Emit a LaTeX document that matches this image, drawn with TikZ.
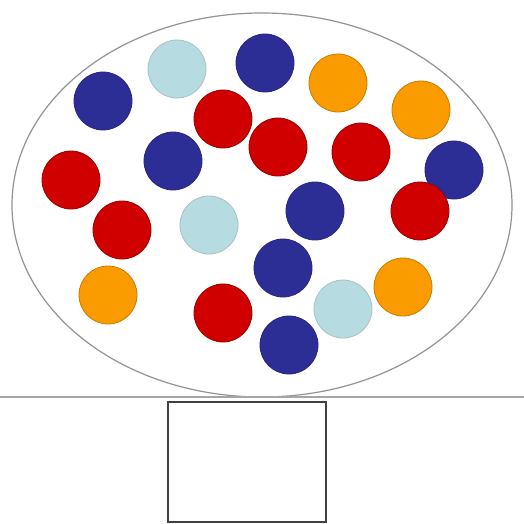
\documentclass[tikz,border=0pt]{standalone}
\usetikzlibrary{shapes.geometric}
\begin{document}
\begin{tikzpicture}[x=1pt,y=-1pt,
  ball/.style={circle,minimum size=58pt,inner sep=0pt,line width=0.8pt},
  db/.style={ball,fill=dblue,draw=dblue!85!black},
  rd/.style={ball,fill=rred,draw=rred!75!black},
  og/.style={ball,fill=orng,draw=orng!80!black},
  lb/.style={ball,fill=lblue,draw=lblue!70!gray},
]
\definecolor{dblue}{RGB}{45,45,150}
\definecolor{rred}{RGB}{208,0,0}
\definecolor{orng}{RGB}{250,155,0}
\definecolor{lblue}{RGB}{182,220,225}
\useasboundingbox (0,0) rectangle (524,524);
\fill[white] (0,0) rectangle (524,524);
\node[ellipse,draw=gray!85,line width=1.2pt,minimum width=500pt,minimum height=384pt,inner sep=0pt] (jar) at (262,205) {};
\draw[gray!70,line width=1.8pt] (0,397) coordinate (l1) -- (524,397) coordinate (l2);
\node[draw=black!75,line width=1.2pt,minimum width=158pt,minimum height=120pt,inner sep=0pt] (box) at (247,462) {};
\node[db] (c1) at (103,101) {};
\node[lb] (c2) at (177,69) {};
\node[db] (c3) at (265,63) {};
\node[og] (c4) at (338,83) {};
\node[og] (c5) at (421,110) {};
\node[rd] (c6) at (223,119) {};
\node[rd] (c7) at (278,147) {};
\node[rd] (c8) at (361,152) {};
\node[db] (c9) at (173,161) {};
\node[db] (c10) at (454,170) {};
\node[rd] (c11) at (71,180) {};
\node[rd] (c12) at (122,230) {};
\node[lb] (c13) at (209,225) {};
\node[db] (c14) at (315,211) {};
\node[rd] (c15) at (420,211) {};
\node[db] (c16) at (283,268) {};
\node[og] (c17) at (108,295) {};
\node[rd] (c18) at (223,313) {};
\node[lb] (c19) at (343,309) {};
\node[og] (c20) at (403,287) {};
\node[db] (c21) at (289,345) {};
\end{tikzpicture}
\end{document}
